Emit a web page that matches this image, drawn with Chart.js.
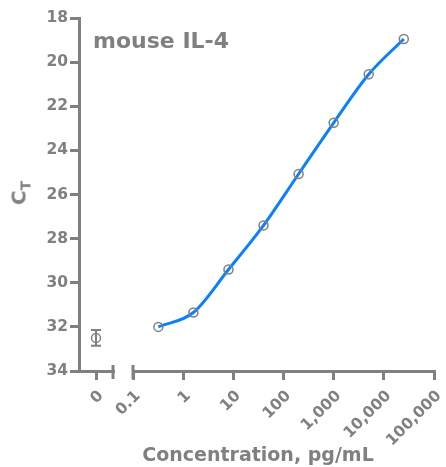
<!DOCTYPE html>
<html>
<head>
<meta charset="utf-8">
<script src="https://cdn.jsdelivr.net/npm/chart.js@4/dist/chart.umd.min.js"></script>
<style>
  body { margin: 0; background: #fff; }
  #wrap { position: relative; width: 446px; height: 467px; overflow: hidden;
          font-family: 'DejaVu Sans', sans-serif; font-weight: bold; color: #808080; }
  canvas { position: absolute; left: 0; top: 0; }
  .title { position: absolute; left: 93px; top: 30px; font-size: 22px; line-height: 22px; white-space: nowrap; }
  .xtitle { position: absolute; left: 58px; width: 400px; top: 445px; font-size: 19px; line-height: 19px;
            text-align: center; white-space: nowrap; }
  .ytitle { position: absolute; left: 22px; top: 193px; font-size: 20px; line-height: 20px; white-space: nowrap;
            transform: translate(-50%, -50%) rotate(-90deg); }
  .ytitle sub { font-size: 14px; vertical-align: -5px; }
</style>
</head>
<body>
<div id="wrap">
  <canvas id="zero-chart" width="446" height="467"></canvas>
  <canvas id="main-chart" width="446" height="467"></canvas>
  <div class="title">mouse IL-4</div>
  <div class="ytitle">C<sub>T</sub></div>
  <div class="xtitle">Concentration, pg/mL</div>
</div>
<script>
// Standard curve: concentration (pg/mL) vs CT
const concentrations = [0.32, 1.6, 8, 40, 200, 1000, 5000, 25000];
const ctValues = [32.0, 31.35, 29.4, 27.4, 25.07, 22.75, 20.55, 18.95];

// Blank (zero concentration) mean and SD
const zeroConc = [0];
const zeroCt = [32.5];
const zeroSd = [0.36];

// Axis ticks
const xTicks = [0.1, 1, 10, 100, 1000, 10000, 100000];
const zeroTicks = [0];
const yMin = 18;
const yMax = 34;

const gray = '#808080';
const tickFont = { family: "'DejaVu Sans', sans-serif", weight: 'bold', size: 15.5 };

/**
 * Little end caps where the x axis is broken
 */
const axisBreak = {
  id: 'axisBreak',
  afterDraw(chart, args, opts) {
    const { ctx, chartArea } = chart;
    const x = opts.side === 'right' ? chartArea.right : chartArea.left;
    ctx.save();
    ctx.strokeStyle = gray;
    ctx.lineWidth = 3;
    ctx.beginPath();
    ctx.moveTo(x, chartArea.bottom - 6);
    ctx.lineTo(x, chartArea.bottom + 8);
    ctx.stroke();
    ctx.restore();
  }
};

/**
 * Error bars for the blank point
 */
const errorBars = {
  id: 'errorBars',
  beforeDatasetsDraw(chart) {
    const { ctx } = chart;
    const xs = chart.scales.x;
    const ys = chart.scales.y;
    ctx.save();
    ctx.strokeStyle = gray;
    ctx.lineWidth = 2;
    zeroConc.forEach((c, i) => {
      const px = xs.getPixelForValue(c);
      const top = ys.getPixelForValue(zeroCt[i] - zeroSd[i]);
      const bot = ys.getPixelForValue(zeroCt[i] + zeroSd[i]);
      ctx.beginPath();
      ctx.moveTo(px, top); ctx.lineTo(px, bot);
      ctx.moveTo(px - 5, top); ctx.lineTo(px + 5, top);
      ctx.moveTo(px - 5, bot); ctx.lineTo(px + 5, bot);
      ctx.stroke();
    });
    ctx.restore();
  }
};

function yScale(show) {
  const s = {
    type: 'linear',
    display: show,
    min: yMin,
    max: yMax,
    reverse: true,
    afterBuildTicks: (sc) => { sc.ticks = []; for (let v = yMin; v <= yMax; v += 2) sc.ticks.push({ value: v }); },
    border: { color: gray, width: 3 },
    grid: { drawOnChartArea: false, drawTicks: true, tickLength: 9, color: gray, lineWidth: 3 },
    ticks: { color: gray, font: tickFont, padding: 2 }
  };
  if (show) s.afterFit = (sc) => { sc.width = 79; };
  return s;
}

function xAxisCommon() {
  return {
    afterFit: (s) => { s.height = 96; s.paddingLeft = 0; s.paddingRight = 0; },
    border: { color: gray, width: 3 },
    grid: { drawOnChartArea: false, drawTicks: true, tickLength: 9, color: gray, lineWidth: 3 },
    ticks: { color: gray, font: tickFont, minRotation: 45, maxRotation: 45, padding: 7, labelOffset: 5, autoSkip: false }
  };
}

// Left panel: blank sample at 0
const zeroX = xAxisCommon();
Object.assign(zeroX, {
  type: 'linear',
  min: -1,
  max: 1,
  afterBuildTicks: (s) => { s.ticks = zeroTicks.map(v => ({ value: v })); }
});

new Chart(document.getElementById('zero-chart'), {
  type: 'scatter',
  data: {
    datasets: [{
      data: zeroConc.map((c, i) => ({ x: c, y: zeroCt[i] })),
      pointRadius: 4.5,
      pointBorderWidth: 1.5,
      pointBorderColor: gray,
      pointBackgroundColor: 'rgba(0,0,0,0)'
    }]
  },
  options: {
    responsive: false,
    animation: false,
    layout: { padding: { left: 0, top: 18, right: 333, bottom: 0 } },
    plugins: { legend: { display: false }, tooltip: { enabled: false }, axisBreak: { side: 'right' } },
    scales: { x: zeroX, y: yScale(true) }
  },
  plugins: [errorBars, axisBreak]
});

// Right panel: standard curve on log axis
const mainX = xAxisCommon();
Object.assign(mainX, {
  type: 'logarithmic',
  min: 0.1,
  max: 100000,
  afterBuildTicks: (s) => { s.ticks = xTicks.map(v => ({ value: v })); }
});
mainX.ticks.callback = (v) => Number(v).toLocaleString('en-US');

new Chart(document.getElementById('main-chart'), {
  type: 'line',
  data: {
    datasets: [{
      data: concentrations.map((c, i) => ({ x: c, y: ctValues[i] })),
      borderColor: '#0a80ff',
      borderWidth: 3,
      cubicInterpolationMode: 'monotone',
      pointRadius: 4.5,
      pointBorderWidth: 1.5,
      pointBorderColor: gray,
      pointBackgroundColor: 'rgba(0,0,0,0)',
      fill: false
    }]
  },
  options: {
    responsive: false,
    animation: false,
    layout: { padding: { left: 133, top: 18, right: 12, bottom: 0 } },
    plugins: { legend: { display: false }, tooltip: { enabled: false }, axisBreak: { side: 'left' } },
    scales: { x: mainX, y: yScale(false) }
  },
  plugins: [axisBreak]
});
</script>
</body>
</html>
